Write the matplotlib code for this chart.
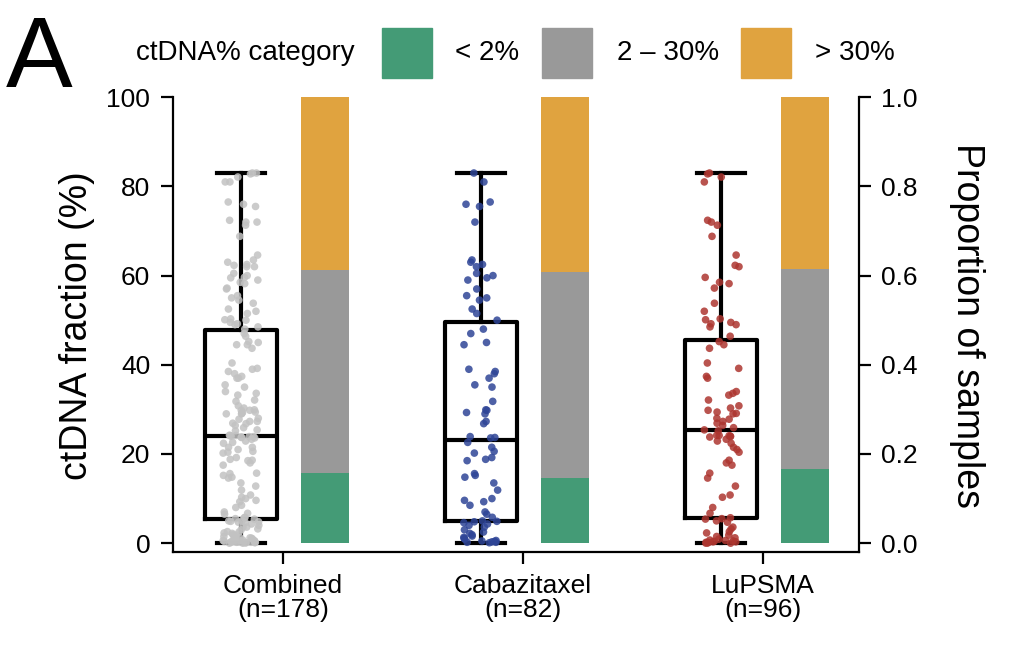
import numpy as np
import matplotlib
matplotlib.use("Agg")
from matplotlib import pyplot as plt
from matplotlib.patches import Rectangle

plt.rcParams['font.family'] = ['Liberation Sans', 'DejaVu Sans']

# ctDNA fraction (%) per sample
cabazitaxel = [0.1, 0.2, 0.2, 0.3, 0.4, 0.5, 0.6, 0.9, 1.1, 1.3, 1.6, 1.9,
               2.2, 2.5, 3.0, 3.6, 4.0, 4.3, 4.6, 4.8, 4.9, 5.0, 5.8, 6.5, 7.0,
               8.5, 9.3, 9.6, 10.0, 11.9, 13.5, 14.8, 15.2, 15.6, 18.5, 18.8,
               19.2, 20.2, 20.6, 21.5, 22.6, 23.6, 23.7, 23.9, 26.8, 27.3, 29.0,
               29.3, 29.8, 29.9,
               31.8, 35.0, 35.5, 37.0, 38.0, 38.5, 39.0, 44.5, 45.0, 47.0, 48.0,
               50.0, 51.5, 52.5, 54.5, 55.0, 55.5, 57.0, 59.0, 59.5, 60.0, 60.5,
               62.0, 62.5, 63.0, 63.5, 72.0, 75.5, 76.0, 76.5, 81.0, 83.0]
lupsma = [0.0, 0.0, 0.1, 0.1, 0.2, 0.2, 0.3, 0.3, 0.4, 0.5, 0.6, 0.7, 0.9,
          1.2, 1.5, 1.8,
          2.3, 2.6, 3.2, 3.6, 4.7, 5.0, 5.4, 5.5, 5.7, 6.7, 8.0, 10.3, 10.8,
          12.8, 14.6, 15.7, 17.5, 18.0, 18.6, 20.4, 21.0, 21.5, 22.4, 22.9,
          23.3, 23.8, 23.9, 24.0, 24.1, 24.15, 24.2, 25.2, 25.4, 25.9, 26.4,
          26.9, 27.3, 27.8, 28.0, 29.0, 29.1, 29.4, 29.8,
          30.3, 30.8, 32.1, 33.2, 33.6, 34.0, 37.0, 37.4, 39.2, 40.4, 43.7,
          44.5, 45.2, 46.4, 48.5, 49.0, 49.2, 49.5, 50.1, 50.3, 52.0, 53.8,
          57.2, 58.2, 58.5, 59.6, 62.0, 62.3, 64.6, 68.8, 71.3, 72.0, 72.4,
          81.0, 82.1, 82.8, 83.0]
combined = cabazitaxel + lupsma

groups = ['Combined', 'Cabazitaxel', 'LuPSMA']
values = [combined, cabazitaxel, lupsma]
point_colors = ['#c2c2c2', '#2f4597', '#ad3630']

# proportion of samples per ctDNA% category
prop_low = [0.157, 0.146, 0.167]
prop_mid = [0.455, 0.463, 0.448]
prop_high = [0.388, 0.391, 0.385]
cat_labels = ['< 2%', '2 \u2013 30%', '> 30%']
cat_colors = ['#449b76', '#999999', '#e0a33f']

fig = plt.figure(figsize=(10.12, 6.48), dpi=100)
ax = fig.add_axes([0.171, 0.148, 0.678, 0.702])
ax2 = ax.twinx()

x = np.arange(1, len(groups) + 1)
off = 0.175

ax.boxplot(values, positions=x - off, widths=0.30, whis=(0, 100),
           showfliers=False, capwidths=0.2,
           boxprops=dict(lw=3, color='black'),
           whiskerprops=dict(lw=3, color='black'),
           capprops=dict(lw=3, color='black'),
           medianprops=dict(lw=3, color='black'))

rng = np.random.default_rng(7)
for i, (v, c) in enumerate(zip(values, point_colors)):
    jit = rng.uniform(-0.075, 0.075, len(v))  # horizontal jitter only
    ax.scatter(x[i] - off + jit, v, s=30, color=c, alpha=0.85,
               edgecolors='none', zorder=3)

bw = 0.2
ax2.bar(x + off, prop_low, bw, color=cat_colors[0])
ax2.bar(x + off, prop_mid, bw, bottom=prop_low, color=cat_colors[1])
ax2.bar(x + off, prop_high, bw, bottom=np.add(prop_low, prop_mid),
        color=cat_colors[2])

ax.set_xlim(0.542, 3.4)
ax.set_ylim(-2, 100)
ax2.set_ylim(-0.02, 1.0)
ax.set_yticks([0, 20, 40, 60, 80, 100])
ax2.set_yticks([0, 0.2, 0.4, 0.6, 0.8, 1.0])
ax2.set_yticklabels(['0.0', '0.2', '0.4', '0.6', '0.8', '1.0'])
ax.set_xticks(x)
ax.set_xticklabels([f'{g}\n(n={len(v)})' for g, v in zip(groups, values)],
                   fontsize=19, linespacing=1.0)

for a in (ax, ax2):
    a.spines['top'].set_visible(False)
    for s in a.spines.values():
        s.set_linewidth(1.6)
    a.tick_params(length=8.5, width=1.6, labelsize=19, pad=7)
ax.spines['right'].set_visible(False)
ax2.spines['left'].set_visible(False)
ax2.spines['bottom'].set_visible(False)
ax.tick_params(axis='y', pad=8)
ax.tick_params(axis='x', pad=7)

fig.text(0.076, 0.497, 'ctDNA fraction (%)', rotation=90, fontsize=27,
         ha='center', va='center')
fig.text(0.956, 0.497, 'Proportion of samples', rotation=270, fontsize=27,
         ha='center', va='center')
fig.text(0.006, 0.906, 'A', fontsize=72, ha='left', va='center')

# legend row
leg_y = 1 - 53 / 648
fig.text(136 / 1012, leg_y, 'ctDNA% category', fontsize=20, ha='left',
         va='center')
patch_x = [382, 542, 741]
text_x = [455, 617, 815]
for px, tx, lab, col in zip(patch_x, text_x, cat_labels, cat_colors):
    fig.patches.append(Rectangle((px / 1012, 1 - 78 / 648), 50 / 1012,
                                 50 / 648, color=col,
                                 transform=fig.transFigure))
    fig.text(tx / 1012, leg_y, lab, fontsize=20, ha='left', va='center')

fig.savefig('out.png', dpi=100)
